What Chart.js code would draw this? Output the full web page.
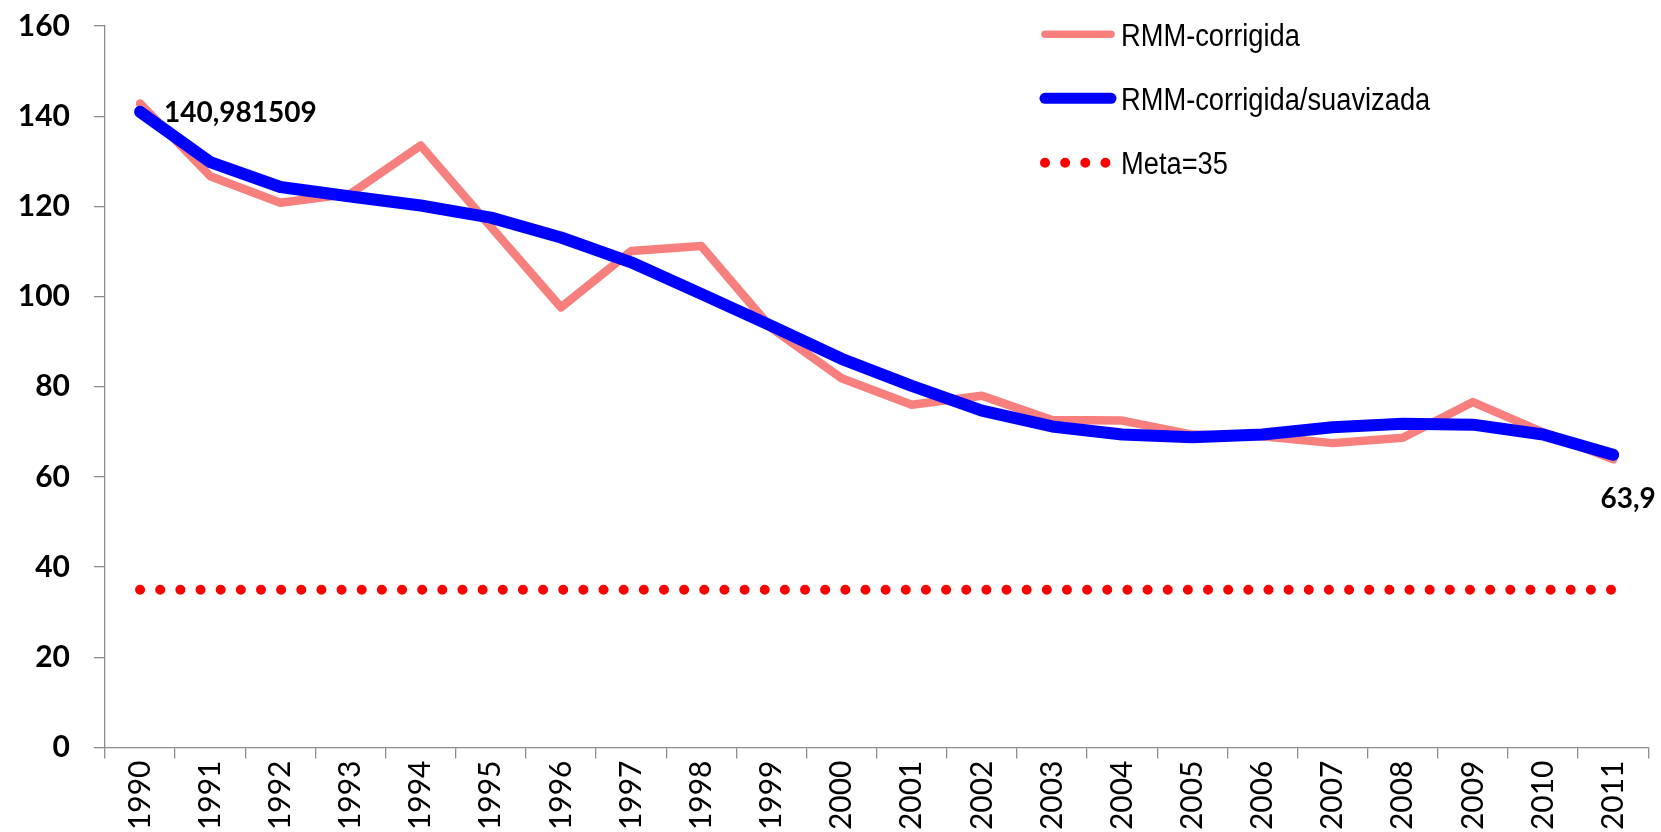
<!DOCTYPE html>
<html>
<head>
<meta charset="utf-8">
<script src="https://cdn.jsdelivr.net/npm/chart.js@4.4.1/dist/chart.umd.min.js"></script>
<style>
  html, body { margin: 0; padding: 0; background: #ffffff; }
  #wrap { width: 1661px; height: 832px; position: relative; }
</style>
</head>
<body>
<div id="wrap"><canvas id="c" width="1661" height="832"></canvas></div>
<script>
// ---- data ----
const years = ['1990','1991','1992','1993','1994','1995','1996','1997','1998','1999','2000',
               '2001','2002','2003','2004','2005','2006','2007','2008','2009','2010','2011'];
const rmmCorrigida = [142.8, 126.7, 120.8, 122.8, 133.5, 115.5, 97.6, 110.1, 111.2, 93.0, 81.9,
                      76.0, 78.0, 72.6, 72.5, 69.4, 69.0, 67.5, 68.7, 76.6, 69.9, 63.9];
const rmmSuavizada = [140.981509, 129.8, 124.3, 122.2, 120.2, 117.5, 113.1, 107.6, 100.6, 93.5, 86.2,
                      80.2, 74.7, 71.2, 69.4, 68.8, 69.4, 71.0, 71.8, 71.6, 69.4, 64.9];
const meta = [35, 35, 35, 35, 35, 35, 35, 35, 35, 35, 35, 35, 35, 35, 35, 35, 35, 35, 35, 35, 35, 35];
const seriesNames = ['RMM-corrigida', 'RMM-corrigida/suavizada', 'Meta=35'];
const yTicks = [0, 20, 40, 60, 80, 100, 120, 140, 160];

// ---- styles ----
const PINK = '#F7807F';
const BLUE = '#0000FF';
const RED = '#FF0000';
const AXIS = '#8C8C8C';

Chart.defaults.font.family = 'Lato, "Open Sans", sans-serif';

const fmt = v => String(v).replace('.', ',');

// data labels: [datasetIndex, pointIndex, placement]
const labelledPoints = [
  [1, 0, 'right'],
  [0, 21, 'below']
];

const dataLabelPlugin = {
  id: 'dataLabels',
  afterDatasetsDraw(chart) {
    const ctx = chart.ctx;
    ctx.save();
    ctx.font = 'bold 28px Lato, sans-serif';
    ctx.fillStyle = '#000000';
    ctx.textBaseline = 'middle';
    labelledPoints.forEach(([di, pi, place]) => {
      const el = chart.getDatasetMeta(di).data[pi];
      const v = chart.data.datasets[di].data[pi];
      if (place === 'right') {
        ctx.textAlign = 'left';
        ctx.fillText(fmt(v), el.x + 24, el.y + 1);
      } else {
        ctx.textAlign = 'center';
        ctx.fillText(fmt(v), el.x + 15, el.y + 40);
      }
    });
    ctx.restore();
  }
};

const legendPlugin = {
  id: 'customLegend',
  afterDraw(chart) {
    const ctx = chart.ctx;
    const x0 = 1045, x1 = 1111, tx = 1121;
    const rowY = [34.3, 98.3, 162.7];
    ctx.save();
    chart.data.datasets.forEach((ds, i) => {
      const y = rowY[i];
      ctx.beginPath();
      ctx.strokeStyle = ds.borderColor;
      ctx.lineWidth = i === 2 ? ds.borderWidth : ds.borderWidth - 1;
      ctx.lineCap = 'round';
      ctx.setLineDash(ds.borderDash || []);
      ctx.moveTo(x0, y);
      ctx.lineTo(x1, y);
      ctx.stroke();
      ctx.setLineDash([]);
      ctx.save();
      ctx.translate(tx, y + 11.5);
      ctx.scale(0.88, 1);
      ctx.font = '31px "Liberation Sans Narrow", "Liberation Sans", Arial, sans-serif';
      ctx.fillStyle = '#000000';
      ctx.textAlign = 'left';
      ctx.textBaseline = 'alphabetic';
      ctx.fillText(ds.label, 0, 0);
      ctx.restore();
    });
    ctx.restore();
  }
};

new Chart(document.getElementById('c'), {
  type: 'line',
  data: {
    labels: years,
    datasets: [
      {
        label: seriesNames[0], data: rmmCorrigida, borderColor: PINK, borderWidth: 8.5,
        pointRadius: 0, borderCapStyle: 'round', borderJoinStyle: 'round', tension: 0, order: 1
      },
      {
        label: seriesNames[1], data: rmmSuavizada, borderColor: BLUE, borderWidth: 12,
        pointRadius: 0, borderCapStyle: 'round', borderJoinStyle: 'round', tension: 0, order: 0
      },
      {
        label: seriesNames[2], data: meta, borderColor: RED, borderWidth: 10,
        borderDash: [0, 20.15], borderCapStyle: 'round', pointRadius: 0, tension: 0, order: 2
      }
    ]
  },
  options: {
    responsive: false,
    animation: false,
    events: [],
    layout: { padding: { top: 26, right: 12.7, left: 0, bottom: 0 } },
    plugins: { legend: { display: false }, tooltip: { enabled: false }, title: { display: false } },
    scales: {
      x: {
        type: 'category',
        offset: true,
        grid: { offset: true, drawOnChartArea: false, drawTicks: true, tickLength: 11, color: AXIS, lineWidth: 1.3 },
        border: { display: true, color: AXIS, width: 1.3 },
        ticks: { color: '#000000', font: { size: 30, family: 'Lato, sans-serif' }, minRotation: 90, maxRotation: 90, padding: 2, autoSkip: false },
        afterFit(s) { s.height = 84.5; }
      },
      y: {
        min: 0, max: 160,
        afterBuildTicks(s) { s.ticks = yTicks.map(v => ({ value: v })); },
        grid: { drawOnChartArea: false, drawTicks: true, tickLength: 11, color: AXIS, lineWidth: 1.3 },
        border: { display: true, color: AXIS, width: 1.3 },
        ticks: { color: '#000000', font: { size: 30, weight: 'bold', family: 'Lato, sans-serif' }, padding: 24 },
        afterFit(s) { s.width = 105; s.paddingTop = 0; s.paddingBottom = 0; }
      }
    }
  },
  plugins: [dataLabelPlugin, legendPlugin]
});
</script>
</body>
</html>
